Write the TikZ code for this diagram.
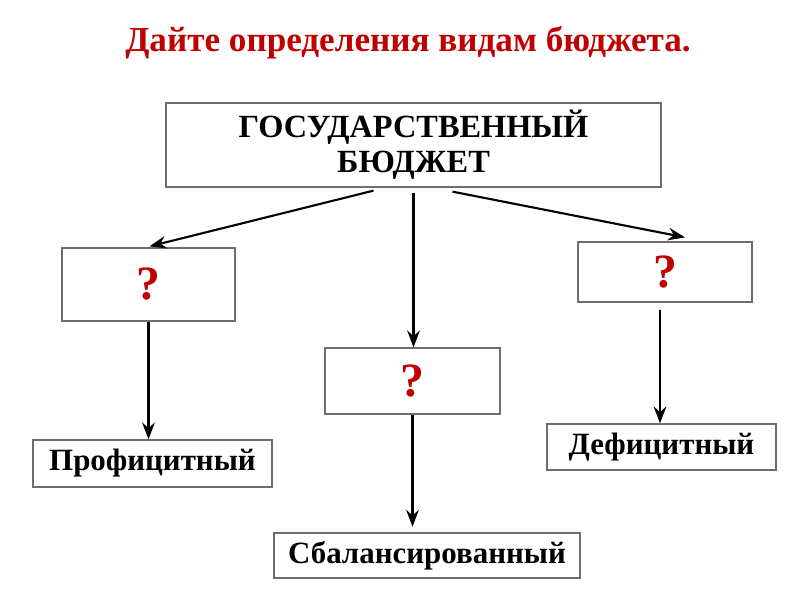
\documentclass[tikz,border=0pt]{standalone}
\usepackage{fontspec}
\setmainfont{Liberation Serif}
\usetikzlibrary{arrows.meta, positioning, calc}
\definecolor{titlered}{RGB}{192,0,0}
\definecolor{boxgray}{RGB}{110,110,110}

\tikzset{
  box/.style={draw=boxgray, line width=0.9pt, font=\bfseries\fontsize{22}{25}\selectfont, align=center, inner sep=0pt},
  qbox/.style={box, text=titlered, font=\bfseries\fontsize{34}{36}\selectfont},
  arr/.style={-{Stealth[length=12pt, width=9pt, inset=4pt]}, line width=1.5pt}
}

\begin{document}
\begin{tikzpicture}[x=0.025cm, y=-0.025cm]
    \useasboundingbox (0,0) rectangle (800,600);

    \node[text=titlered, font=\bfseries\fontsize{25}{28}\selectfont] (title) at (408,43) {Дайте определения видам бюджета.};

    \node[box, font=\bfseries\fontsize{23}{25}\selectfont, minimum width=495*0.025cm, minimum height=84*0.025cm] (gb) at (413.5,145) {ГОСУДАРСТВЕННЫЙ\\БЮДЖЕТ};

    \node[qbox, minimum width=173*0.025cm, minimum height=73*0.025cm] (q1) at (148.5,284.5) {?};
    \node[qbox, minimum width=175*0.025cm, minimum height=66*0.025cm] (q2) at (412.5,381) {?};
    \node[qbox, minimum width=174*0.025cm, minimum height=60*0.025cm] (q3) at (665,272) {?};

    \node[box, minimum width=239*0.025cm, minimum height=47*0.025cm] (prof) at (152.5,463.5) {Профицитный};
    \node[box, minimum width=306*0.025cm, minimum height=45*0.025cm] (bal) at (427,555.5) {Сбалансированный};
    \node[box, minimum width=229*0.025cm, minimum height=46*0.025cm] (def) at (661.5,447) {Дефицитный};

    \draw[arr] ($(gb.south)+(-40,3)$) -- ($(q1.north)+(1,-1)$);
    \draw[arr] ($(gb.south)+(0,5)$) -- (q2.north -| gb.south);
    \draw[arr] ($(gb.south)+(39,4)$) -- ($(q3.north)+(20,-4)$);

    \draw[arr] (q1.south) -- (q1.south |- prof.north);
    \draw[arr, shorten >=4pt] (q2.south) -- (q2.south |- bal.north);
    \draw[arr] ($(q3.south)+(-5,7)$) -- ($(q3.south |- def.north)+(-5,0)$);
  \end{tikzpicture}
\end{document}
